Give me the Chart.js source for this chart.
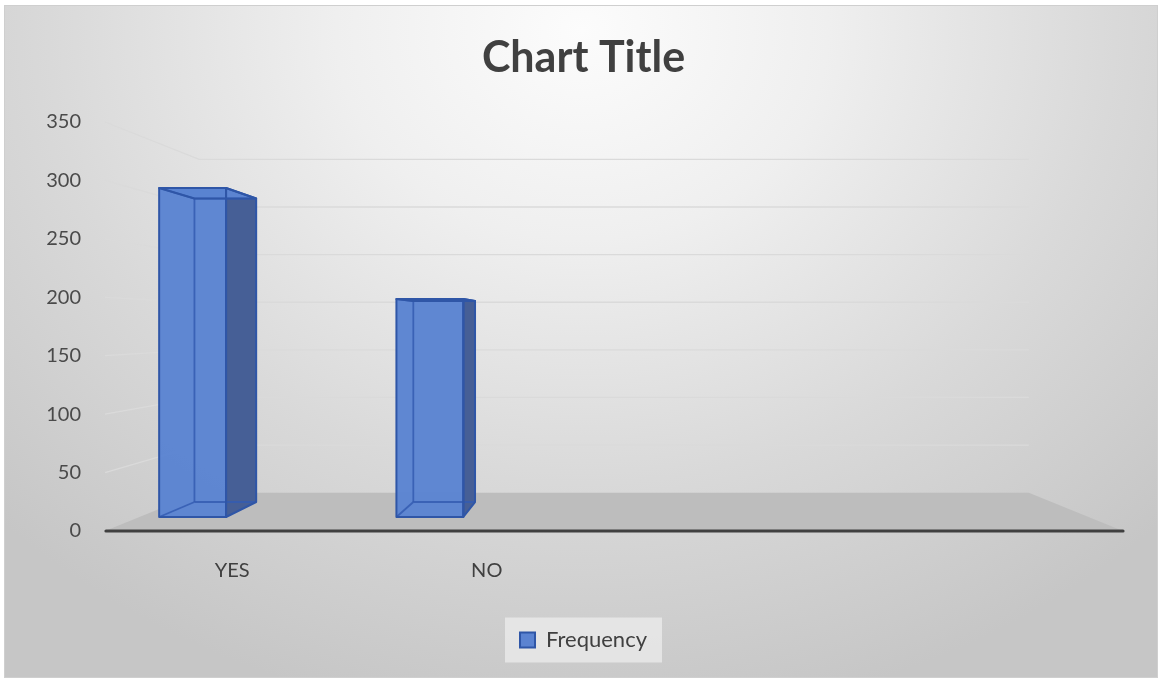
<!DOCTYPE html>
<html>
<head>
<meta charset="utf-8">
<script src="https://cdn.jsdelivr.net/npm/chart.js@4.4.1/dist/chart.umd.min.js"></script>
<style>
  html, body { margin: 0; padding: 0; background: #ffffff; }
  canvas { display: block; }
</style>
</head>
<body>
<canvas id="chart" width="1163" height="680"></canvas>
<script>
// ---- data ----
const categories = ['YES', 'NO', '', ''];
const frequency = [302, 200, null, null];
const seriesName = 'Frequency';
const chartTitle = 'Chart Title';
const yMin = 0, yMax = 350, yStep = 50;

// ---- 3-D look ----
const BACK_SCALE = 0.815;                  // back wall size relative to the front plane
const BAR_FRONT = 0.366, BAR_BACK = 0.757; // depth of the columns (0 = front edge, 1 = back wall)
const BAR_FROM = -0.417, BAR_TO = -0.135;  // column span relative to category centre, in category widths

function makeProjector(area) {
  const cx = (area.left + area.right) / 2;
  const cy = area.top + 0.494 * (area.bottom - area.top);
  return (x, y, d) => {
    const s = 1 - (1 - BACK_SCALE) * d;
    return [cx + s * (x - cx), cy + s * (y - cy)];
  };
}

function poly(ctx, pts) {
  ctx.beginPath();
  ctx.moveTo(pts[0][0], pts[0][1]);
  for (let i = 1; i < pts.length; i++) ctx.lineTo(pts[i][0], pts[i][1]);
  ctx.closePath();
}
function seg(ctx, a, b) {
  ctx.beginPath();
  ctx.moveTo(a[0], a[1]);
  ctx.lineTo(b[0], b[1]);
  ctx.stroke();
}

// chart background, frame and legend panel
const backdrop = {
  id: 'backdrop',
  beforeDraw(chart) {
    const ctx = chart.ctx, W = chart.width, H = chart.height;
    ctx.save();
    ctx.fillStyle = '#ffffff';
    ctx.fillRect(0, 0, W, H);
    ctx.save();
    ctx.beginPath();
    ctx.rect(5, 5, W - 10, H - 8);
    ctx.clip();
    ctx.translate(582, 30);
    ctx.scale(1, 0.85);
    const g = ctx.createRadialGradient(0, 0, 0, 0, 0, 820);
    g.addColorStop(0, '#fcfcfc');
    g.addColorStop(0.3, '#efefef');
    g.addColorStop(0.65, '#d9d9d9');
    g.addColorStop(1, '#c6c6c6');
    ctx.fillStyle = g;
    ctx.fillRect(-700, -100, 1400, 900);
    ctx.restore();
    ctx.strokeStyle = '#cfcfcf';
    ctx.lineWidth = 1;
    ctx.strokeRect(4.5, 5.5, W - 10, H - 8);

    const hb = chart.legend && chart.legend.legendHitBoxes && chart.legend.legendHitBoxes[0];
    if (hb) {
      const cxl = hb.left + hb.width / 2, cyl = hb.top + hb.height / 2;
      const w = hb.width + 30, h = 45;
      ctx.fillStyle = 'rgba(236,236,236,0.75)';
      ctx.fillRect(cxl - w / 2, cyl - h / 2, w, h);
    }
    ctx.restore();
  }
};

// floor, wall gridlines, the columns and the front axis line
const scene = {
  id: 'scene',
  beforeDatasetsDraw(chart) {
    const ctx = chart.ctx, area = chart.chartArea;
    const y = chart.scales.y;
    const P = makeProjector(area);
    const base = y.getPixelForValue(yMin);
    ctx.save();
    // floor
    ctx.fillStyle = '#bdbdbd';
    poly(ctx, [P(area.left, base, 0), P(area.right, base, 0), P(area.right, base, 1), P(area.left, base, 1)]);
    ctx.fill();
    // gridlines on the side and back walls
    ctx.strokeStyle = '#dadada';
    ctx.lineWidth = 1.3;
    for (let v = yMin + yStep; v <= yMax; v += yStep) {
      const yf = y.getPixelForValue(v);
      const a = [area.left, yf], b = P(area.left, yf, 1), c = P(area.right, yf, 1);
      ctx.beginPath();
      ctx.moveTo(a[0], a[1]);
      ctx.lineTo(b[0], b[1]);
      ctx.lineTo(c[0], c[1]);
      ctx.stroke();
    }
    ctx.restore();
  },
  afterDatasetsDraw(chart) {
    const ctx = chart.ctx, area = chart.chartArea;
    const P = makeProjector(area);
    const xs = chart.scales.x;
    const cw = (xs.right - xs.left) / categories.length;
    const meta = chart.getDatasetMeta(0);
    ctx.save();
    ctx.lineJoin = 'round';
    meta.data.forEach((bar, i) => {
      if (frequency[i] == null) return;
      const xl = bar.x + BAR_FROM * cw, xr = bar.x + BAR_TO * cw;
      const yt = bar.y, yb = bar.base;
      const f = BAR_FRONT, k = BAR_BACK;
      const FLT = P(xl, yt, f), FRT = P(xr, yt, f), FLB = P(xl, yb, f), FRB = P(xr, yb, f);
      const BLT = P(xl, yt, k), BRT = P(xr, yt, k), BLB = P(xl, yb, k), BRB = P(xr, yb, k);

      // right side
      ctx.fillStyle = '#465f96';
      poly(ctx, [FRT, BRT, BRB, FRB]); ctx.fill();
      // top
      ctx.fillStyle = '#5c84d1';
      poly(ctx, [FLT, FRT, BRT, BLT]); ctx.fill();
      // front
      ctx.fillStyle = 'rgba(90,131,209,0.96)';
      poly(ctx, [FLT, FRT, FRB, FLB]); ctx.fill();

      // edges seen through the translucent front
      ctx.strokeStyle = 'rgba(52,92,178,0.85)';
      ctx.lineWidth = 1.8;
      seg(ctx, BLT, BLB);
      seg(ctx, BLB, BRB);
      seg(ctx, FLB, BLB);
      seg(ctx, FLT, BLT);
      seg(ctx, BLT, BRT);

      // outer edges
      ctx.strokeStyle = '#2f56a7';
      ctx.lineWidth = 2;
      poly(ctx, [FLT, FRT, FRB, FLB]); ctx.stroke();
      poly(ctx, [FRT, BRT, BRB, FRB]); ctx.stroke();
      poly(ctx, [FLT, FRT, BRT, BLT]); ctx.stroke();
    });

    // front edge of the floor (category axis line)
    const y0 = chart.scales.y.getPixelForValue(yMin);
    ctx.strokeStyle = '#404040';
    ctx.lineWidth = 3.2;
    ctx.lineCap = 'round';
    seg(ctx, [area.left + 1, y0], [area.right, y0]);
    ctx.restore();
  },
  beforeDatasetDraw() {
    // columns are drawn as 3-D boxes above
    return false;
  }
};

new Chart(document.getElementById('chart'), {
  type: 'bar',
  data: {
    labels: categories,
    datasets: [{
      label: seriesName,
      data: frequency,
      backgroundColor: '#5b83d1',
      borderColor: '#2f56a7',
      borderWidth: 2
    }]
  },
  options: {
    responsive: false,
    animation: false,
    devicePixelRatio: 1,
    layout: { padding: { left: 22, right: 18, top: 0, bottom: 19 } },
    scales: {
      x: {
        offset: true,
        grid: { display: false, drawTicks: false },
        border: { display: false },
        ticks: { color: '#404040', font: { family: 'Lato', size: 20 }, padding: 28, maxRotation: 0 },
        afterFit(s) { s.height = 53; }
      },
      y: {
        min: yMin,
        max: yMax,
        grid: { display: false, drawTicks: false },
        border: { display: false },
        ticks: { stepSize: yStep, color: '#4a4a4a', font: { family: 'Lato', size: 20 }, padding: 24 },
        afterFit(s) { s.width = 83; }
      },
      // empty strip on the right so the title and legend sit over the middle of the frame
      yRight: {
        position: 'right',
        min: yMin,
        max: yMax,
        grid: { display: false, drawTicks: false },
        border: { display: false },
        ticks: { display: false },
        afterFit(s) { s.width = 22; }
      }
    },
    plugins: {
      title: {
        display: true,
        text: chartTitle,
        color: '#404040',
        font: { family: 'Lato', size: 43, weight: 'bold' },
        padding: { top: 32, bottom: 38.4 }
      },
      legend: {
        position: 'bottom',
        labels: {
          color: '#404040',
          font: { family: 'Lato', size: 22 },
          boxWidth: 15,
          boxHeight: 15,
          padding: 45
        }
      },
      tooltip: { enabled: false }
    }
  },
  plugins: [backdrop, scene]
});
</script>
</body>
</html>
